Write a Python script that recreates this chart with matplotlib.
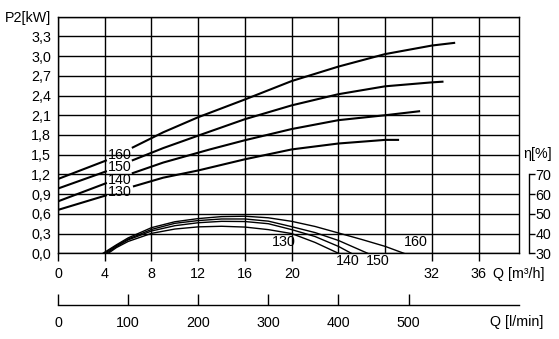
import numpy as np
import matplotlib.pyplot as plt

plt.rcParams['font.family'] = ['Liberation Sans', 'DejaVu Sans']
plt.rcParams['font.size'] = 10.3

# power curves P2 [kW] vs Q [m3/h], one per impeller size
q_p160 = [0, 4.1, 6.4, 9, 12, 16, 20, 24, 28, 32, 33.9]
p160 = [1.13, 1.41, 1.61, 1.84, 2.07, 2.34, 2.62, 2.84, 3.03, 3.16, 3.2]
q_p150 = [0, 4.1, 6.4, 9, 12, 16, 20, 24, 28, 32, 32.9]
p150 = [0.985, 1.245, 1.416, 1.60, 1.79, 2.04, 2.25, 2.42, 2.54, 2.60, 2.61]
q_p140 = [0, 4.1, 6.4, 9, 13, 16, 20, 24, 28, 30.9]
p140 = [0.79, 1.065, 1.22, 1.38, 1.58, 1.72, 1.89, 2.025, 2.10, 2.16]
q_p130 = [0, 4.1, 6.5, 9, 12, 16, 20, 24, 28, 29.1]
p130 = [0.66, 0.88, 1.02, 1.15, 1.26, 1.43, 1.58, 1.67, 1.725, 1.725]

# efficiency curves eta [%]
q_e160 = [3.85, 5, 6, 8, 10, 12, 14, 16, 18, 20, 22, 24, 26, 28, 29.6]
e160 = [30, 34.3, 37.8, 43, 46, 47.6, 48.6, 48.8, 48, 46.2, 43.6, 40.3, 37, 33.5, 30]
q_e150 = [4.0, 5, 6, 8, 10, 12, 14, 16, 18, 20, 22, 24, 26.5]
e150 = [30, 33.9, 37.2, 42.1, 45.2, 46.6, 47.4, 47.4, 46.3, 43.5, 40.5, 36.5, 30]
q_e140 = [4.15, 5, 6, 8, 10, 12, 14, 16, 18, 20, 22, 24, 25.1]
e140 = [30, 33.4, 36.8, 41.3, 44, 45.5, 46.2, 46.1, 45, 42, 38.5, 33.5, 30]
q_e130 = [4.3, 5, 6, 8, 10, 12, 14, 16, 18, 20, 22, 24]
e130 = [30, 32.9, 36, 40.1, 42.3, 43.4, 43.7, 43.3, 42, 40, 35.5, 30]

power = [('160', q_p160, p160, 1.50), ('150', q_p150, p150, 1.31),
         ('140', q_p140, p140, 1.12), ('130', q_p130, p130, 0.93)]
eff = [(q_e160, e160), (q_e150, e150), (q_e140, e140), (q_e130, e130)]

fig = plt.figure(figsize=(5.59, 3.39), dpi=100)
ax = fig.add_axes([58/559, 1-253.3/339, 461/559, 236.7/339])

# power curves, broken where the size label sits
for name, q, p, ly in power:
    q = np.array(q); p = np.array(p)
    left = q < 5
    ax.plot(q[left], p[left], color='black', lw=1.5)
    ax.plot(q[~left], p[~left], color='black', lw=1.5)
    ax.text(5.3, ly, name, ha='center', va='center')

ax.set_xlim(0, 39.45)
ax.set_ylim(0, 3.6)
ax.set_xticks([0, 4, 8, 12, 16, 20, 32, 36])
ax.set_xticks([24, 28], minor=True)
yt = [round(0.3*i, 1) for i in range(13)]
ax.set_yticks(yt)
ax.set_yticklabels([f'{v:.1f}'.replace('.', ',') for v in yt[:-1]] + ['P2[kW]'])
ax.grid(True, which='both', color='black', lw=1.0)
ax.set_axisbelow(True)
ax.tick_params(axis='x', which='major', length=6, width=1, pad=4)
ax.tick_params(axis='x', which='minor', length=0)
ax.tick_params(axis='y', length=0, pad=5)
for s in ax.spines.values():
    s.set_linewidth(1.0)
ax.text(37.25, -0.315, 'Q [m³/h]', ha='left', va='center', clip_on=False)

# efficiency axis on the right
ax2 = ax.twinx()
ax2.set_ylim(30, 30 + 3.6/0.3*10)
for q, e in eff:
    ax2.plot(q, e, color='black', lw=1.0)
ax2.spines['right'].set_position(('outward', 7))
ax2.spines['right'].set_bounds(30, 70)
ax2.spines['right'].set_linewidth(1.0)
for side in ['top', 'left', 'bottom']:
    ax2.spines[side].set_visible(False)
ax2.set_yticks([30, 40, 50, 60, 70])
ax2.tick_params(axis='y', length=4, width=1, pad=1)
ax2.text(1.01, 80.3, 'η[%]', transform=ax2.get_yaxis_transform(), ha='left', va='center',
         clip_on=False)
ax2.text(19.3, 35.6, '130', ha='center', va='center')
ax2.text(30.6, 35.6, '160', ha='center', va='center')
ax2.text(24.8, 26.3, '140', ha='center', va='center', clip_on=False)
ax2.text(27.4, 26.3, '150', ha='center', va='center', clip_on=False)

# flow in l/min underneath
sec = ax.secondary_xaxis(-52/236.7, functions=(lambda x: x*1000/60, lambda x: x*60/1000))
sec.set_xticks([0, 100, 200, 300, 400, 500])
sec.tick_params(direction='in', length=8, width=1, pad=8)
sec.spines['bottom'].set_linewidth(1.0)
ax.text(41.5, -1.05, 'Q [l/min]', ha='right', va='center', clip_on=False)

fig.savefig('out.png', dpi=100)
